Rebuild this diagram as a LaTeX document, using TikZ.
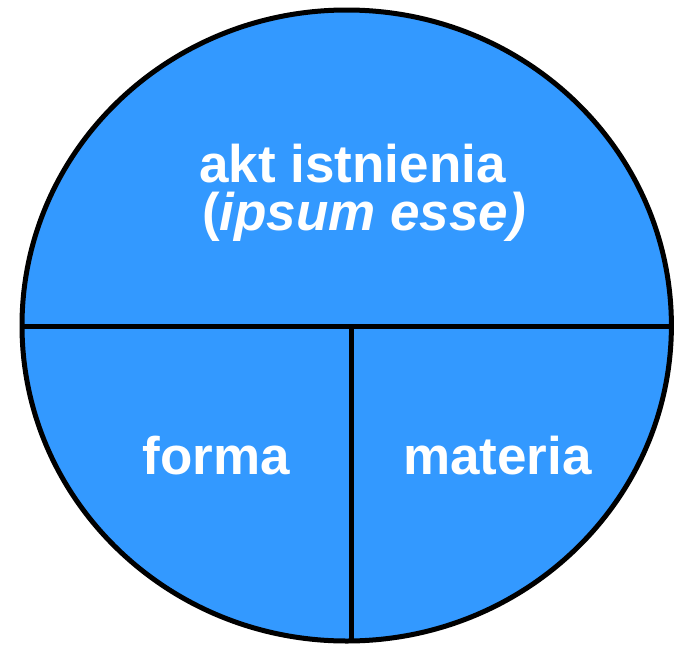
\documentclass[tikz,border=0pt]{standalone}
\usepackage{fontspec}
\setmainfont{Liberation Sans}
\usetikzlibrary{positioning}
\definecolor{partblue}{HTML}{3399FF}

\begin{document}
\begin{tikzpicture}[
    x=1pt, y=-1pt,
    whole/.style={draw=black, line width=5pt, fill=partblue},
    divider/.style={draw=black, line width=5pt},
    lbl/.style={text=white, font=\fontsize{53}{48}\selectfont\bfseries,
                align=center, inner sep=0pt, anchor=base},
]
\useasboundingbox (0,0) rectangle (674,645);

% ============================ circle =====================================
\path[whole] (346.7,325.5) ellipse [x radius=324.7, y radius=315.5];

% ============================ dividers ===================================
\coordinate (hl) at (22,326);
\coordinate (hr) at (671.5,326);
\coordinate (vt) at (351.5,326);
\coordinate (vb) at (351.5,641);
\begin{scope}
  \clip (346.7,325.5) ellipse [x radius=324.7, y radius=315.5];
  \draw[divider] (hl) -- (hr);
  \draw[divider] (vt) -- (vb);
\end{scope}

% ============================ labels =====================================
\node[lbl] (akt) at (352.5,182) {akt istnienia};
\node[lbl] (ipsum) at (364,230) {(\textit{ipsum esse)}};
\node[lbl] (forma) at (216,474) {forma};
\node[lbl] (materia) at (497.5,474) {materia};

\end{tikzpicture}
\end{document}
